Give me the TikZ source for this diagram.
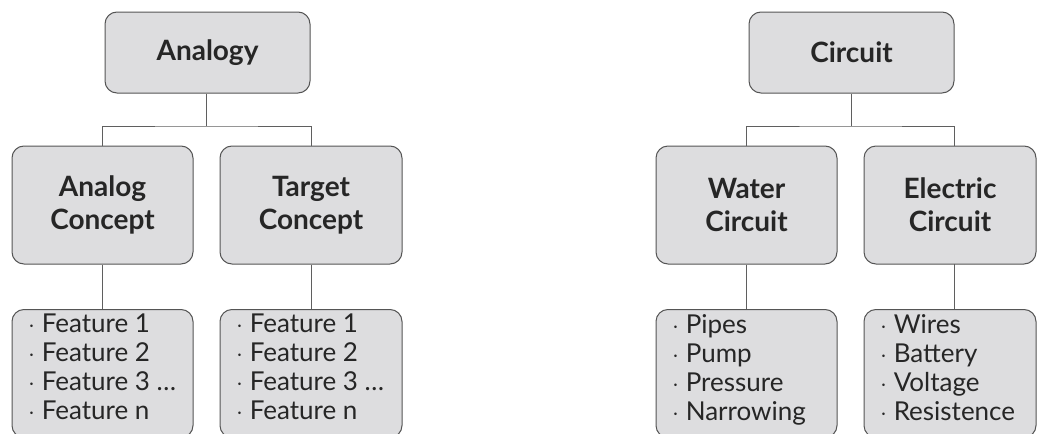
\documentclass[tikz,border=0pt]{standalone}
\usepackage{fontspec}
\setmainfont{Lato}
\definecolor{boxfill}{RGB}{221,221,223}
\definecolor{boxline}{RGB}{85,85,85}
\definecolor{conn}{RGB}{95,95,95}
\tikzset{
  box/.style={draw=boxline, fill=boxfill, line width=1pt, rounded corners=12pt, inner sep=0pt, align=center, font=\fontsize{28}{33}\selectfont\bfseries, text=black!85},
  listbox/.style={draw=boxline, fill=boxfill, line width=1pt, rounded corners=12pt, inner sep=0pt},
  listtext/.style={anchor=north west, align=left, inner sep=0pt, font=\fontsize{26}{29}\selectfont, text=black!85},
  link/.style={draw=conn, line width=0.9pt}
}
\begin{document}
\begin{tikzpicture}[x=1pt,y=-1pt]
\useasboundingbox[fill=white] (0,0) rectangle (1037,434);
% left tree
\node[box, minimum width=205pt, minimum height=81pt] (analogy) at (207.5,52.5) {Analogy};
\node[box, minimum width=181pt, minimum height=118pt] (analog) at (102.5,205) {Analog\\Concept};
\node[box, minimum width=182pt, minimum height=118pt] (target) at (311,205) {Target\\Concept};
\node[listbox, minimum width=181pt, minimum height=128pt, anchor=north] (flA) at (102.5,309) {};
\node[listbox, minimum width=182pt, minimum height=128pt, anchor=north] (flT) at (311,309) {};
\node[listtext] (tA) at (28,314) {$\cdot$ Feature 1\\$\cdot$ Feature 2\\$\cdot$ Feature 3 \dots\\$\cdot$ Feature n};
\node[listtext] (tT) at (236,314) {$\cdot$ Feature 1\\$\cdot$ Feature 2\\$\cdot$ Feature 3 \dots\\$\cdot$ Feature n};
\coordinate (jL) at (206,126);
\draw[link] (analogy.south -| jL) -- (jL);
\draw[link] (analog.north) |- (jL) -| (target.north);
\draw[link] (analog.south) -- (flA.north);
\draw[link] (target.south) -- (flT.north);
% right tree
\node[box, minimum width=205pt, minimum height=81pt] (circuit) at (851.5,52.5) {Circuit};
\node[box, minimum width=181pt, minimum height=118pt] (water) at (746.5,205) {Water\\Circuit};
\node[box, minimum width=172pt, minimum height=118pt] (elec) at (950,205) {Electric\\Circuit};
\node[listbox, minimum width=181pt, minimum height=128pt, anchor=north] (flW) at (746.5,309) {};
\node[listbox, minimum width=172pt, minimum height=128pt, anchor=north] (flE) at (950,309) {};
\node[listtext] (tW) at (672,314) {$\cdot$ Pipes\\$\cdot$ Pump\\$\cdot$ Pressure\\$\cdot$ Narrowing};
\node[listtext] (tE) at (880,314) {$\cdot$ Wires\\$\cdot$ Battery\\$\cdot$ Voltage\\$\cdot$ Resistence};
\coordinate (jR) at (851,126);
\coordinate (eR) at (954.5,146);
\coordinate (eRb) at (954.5,264);
\coordinate (eRl) at (954.5,309);
\draw[link] (circuit.south -| jR) -- (jR);
\draw[link] (water.north) |- (jR) -| (eR);
\draw[link] (water.south) -- (flW.north);
\draw[link] (eRb) -- (eRl);
\end{tikzpicture}
\end{document}
